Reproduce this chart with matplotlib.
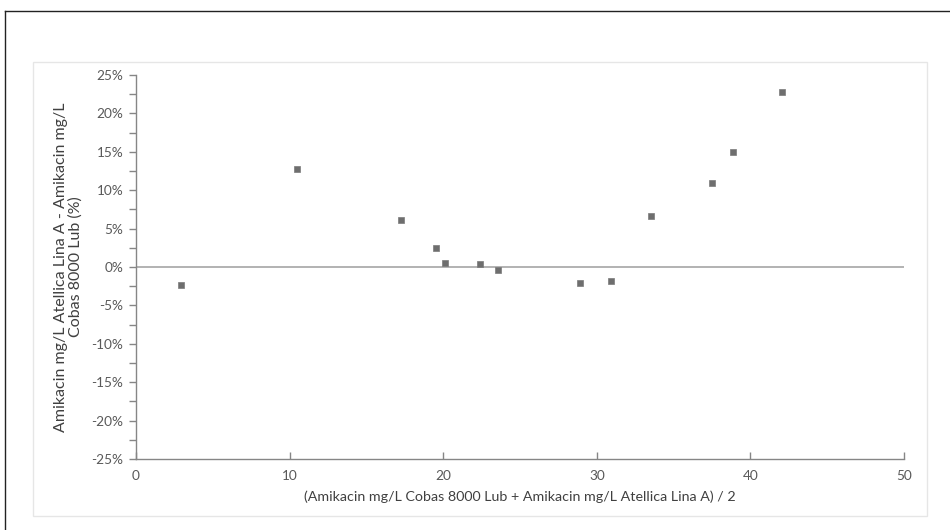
import matplotlib
matplotlib.use("Agg")
import matplotlib.pyplot as plt
from matplotlib.ticker import MultipleLocator, FuncFormatter
from matplotlib.lines import Line2D
from matplotlib.patches import Rectangle

plt.rcParams['font.family'] = ['Lato', 'DejaVu Sans']

# Data (mean concentration, % difference)
mean_conc = [2.95, 10.46, 17.23, 19.55, 20.1, 22.4, 23.6, 28.9, 30.9, 33.5, 37.5, 38.85, 42.05]
pct_diff = [-2.35, 12.8, 6.1, 2.5, 0.5, 0.4, -0.45, -2.1, -1.8, 6.7, 10.9, 15.0, 22.8]

x_label = "(Amikacin mg/L Cobas 8000 Lub + Amikacin mg/L Atellica Lina A) / 2"
y_label = "Amikacin mg/L Atellica Lina A - Amikacin mg/L\nCobas 8000 Lub (%)"

W, H = 950, 530
fig = plt.figure(figsize=(W / 100, H / 100), dpi=100)

# outer frame lines (top and left)
fig.add_artist(Line2D([4.5 / W, 1.0], [1 - 10.5 / H, 1 - 10.5 / H], color='#222222', lw=1.0))
fig.add_artist(Line2D([4.5 / W, 4.5 / W], [0, 1 - 10.5 / H], color='#222222', lw=1.0))
# chart area border
fig.add_artist(Rectangle((33 / W, 1 - 516 / H), (927 - 33) / W, (516 - 62) / H,
                         fill=False, edgecolor='#E6E6E6', lw=1.0))

ax = fig.add_axes([136 / W, 1 - 459 / H, (904 - 136) / W, (459 - 75) / H])

ax.axhline(0, color='#A6A6A6', lw=1.2, zorder=1)
ax.plot(mean_conc, pct_diff, linestyle='none', marker='s', markersize=4.6,
        color='#6E6E6E', markeredgecolor='#7A7A7A', markeredgewidth=0.5, zorder=3)

ax.set_xlim(0, 50)
ax.set_ylim(-25, 25)
ax.xaxis.set_major_locator(MultipleLocator(10))
ax.yaxis.set_major_locator(MultipleLocator(5))
ax.yaxis.set_minor_locator(MultipleLocator(2.5))
ax.yaxis.set_major_formatter(FuncFormatter(lambda v, p: f"{v:.0f}%"))

for s in ['top', 'right']:
    ax.spines[s].set_visible(False)
for s in ['left', 'bottom']:
    ax.spines[s].set_color('#868686')
    ax.spines[s].set_linewidth(1.0)

ax.tick_params(axis='y', which='both', direction='out', length=5, width=1,
               color='#868686', labelcolor='#595959', labelsize=9.8, pad=4)
ax.tick_params(axis='x', which='major', direction='in', length=5, width=1,
               color='#868686', labelcolor='#595959', labelsize=9.8, pad=8)

ax.set_xlabel(x_label, fontsize=10.3, color='#404040', labelpad=6)
ax.set_ylabel(y_label, fontsize=11.5, color='#404040', labelpad=6, linespacing=1.1)

fig.savefig("out.png", dpi=100, facecolor='white')
